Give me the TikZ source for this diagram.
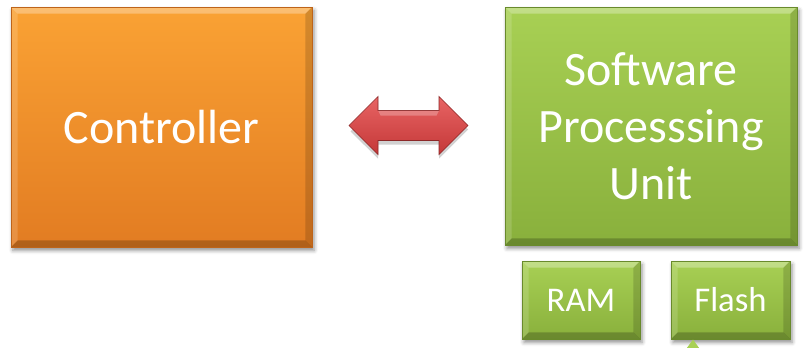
\documentclass[tikz,border=0pt]{standalone}
\usepackage{fontspec}
\setmainfont{Carlito}
\usetikzlibrary{calc,shadows.blur,arrows.meta}

\definecolor{orangeTop}{RGB}{250,162,52}
\definecolor{orangeBot}{RGB}{226,124,34}
\definecolor{orangeEdge}{RGB}{190,100,25}
\definecolor{greenTop}{RGB}{168,208,84}
\definecolor{greenBot}{RGB}{137,176,60}
\definecolor{greenEdge}{RGB}{105,138,44}
\definecolor{arrowTop}{RGB}{232,100,100}
\definecolor{arrowBot}{RGB}{196,56,56}
\definecolor{arrowEdge}{RGB}{140,40,40}

\tikzset{
  bevel/.style={path picture={
    \coordinate (bsw) at (path picture bounding box.south west);
    \coordinate (bne) at (path picture bounding box.north east);
    \coordinate (bnw) at (path picture bounding box.north west);
    \coordinate (bse) at (path picture bounding box.south east);
    \fill[white,opacity=0.30] (bnw) -- (bne) -- ($(bne)+(-#1,-#1)$) -- ($(bnw)+(#1,-#1)$) -- cycle;
    \fill[white,opacity=0.15] (bnw) -- (bsw) -- ($(bsw)+(#1,#1)$) -- ($(bnw)+(#1,-#1)$) -- cycle;
    \fill[black,opacity=0.15] (bne) -- (bse) -- ($(bse)+(-#1,#1)$) -- ($(bne)+(-#1,-#1)$) -- cycle;
    \fill[black,opacity=0.22] (bsw) -- (bse) -- ($(bse)+(-#1,#1)$) -- ($(bsw)+(#1,#1)$) -- cycle;
  }},
  block/.style={rectangle, text=white, align=center, inner sep=0pt,
    blur shadow={shadow xshift=1.5pt, shadow yshift=-2.5pt, shadow blur radius=3pt, shadow opacity=45}},
  orangeblock/.style={block, draw=orangeEdge, line width=0.4pt,
    top color=orangeTop, bottom color=orangeBot, bevel=5pt},
  greenblock/.style={block, draw=greenEdge, line width=0.4pt,
    top color=greenTop, bottom color=greenBot, bevel=5pt},
  bigtext/.style={font=\fontsize{36}{42.75}\selectfont},
  smalltext/.style={font=\fontsize{26}{30}\selectfont},
}

\begin{document}
\begin{tikzpicture}[x=0.75pt,y=-0.75pt]
  \useasboundingbox (0,0) rectangle (807,347);
  \clip (0,0) rectangle (807,347);

  % main blocks
  \node[orangeblock, bigtext, minimum width=225.75pt, minimum height=180pt]
    (ctrl) at (161.5,127) {Controller};
  \node[greenblock, bigtext, minimum width=219pt, minimum height=178.5pt]
    (spu) at (651,126) {Software\\Processsing\\Unit};

  % memories
  \node[greenblock, smalltext, minimum width=88.5pt, minimum height=58.5pt]
    (ram) at (581,300) {RAM};
  \node[greenblock, smalltext, minimum width=89.25pt, minimum height=58.5pt]
    (flash) at (730.5,300) {Flash};

  % double arrow between controller and processing unit
  \coordinate (mid) at ($(ctrl.east)!0.5!(spu.west)$);
  \begin{scope}[shift={(mid)}]
    \fill[black,opacity=0.18] ($(-59.5,3)+(1.5,2)$) -- (-30.5,-26) -- (-30.5,-12) -- (30.5,-12)
      -- (30.5,-26) -- (59.5,3) -- (30.5,32) -- (30.5,18) -- (-30.5,18) -- (-30.5,32) -- cycle;
    \path[top color=arrowTop, bottom color=arrowBot, draw=arrowEdge, line width=0.5pt, line join=miter]
      (-59.5,-1) -- (-30.5,-30) -- (-30.5,-16) -- (30.5,-16) -- (30.5,-30) -- (59.5,-1)
      -- (30.5,28) -- (30.5,14) -- (-30.5,14) -- (-30.5,28) -- cycle;
    \fill[white,opacity=0.25] (-30.5,-16) -- (30.5,-16) -- (28,-11) -- (-28,-11) -- cycle;
  \end{scope}

  % incoming link to flash from below
  \coordinate (feed) at (693,400);
  \draw[color=greenTop, line width=6pt,
    -{Triangle[length=22pt,width=30pt,color=greenTop]}]
    (feed) -- (feed |- flash.south);
\end{tikzpicture}
\end{document}
